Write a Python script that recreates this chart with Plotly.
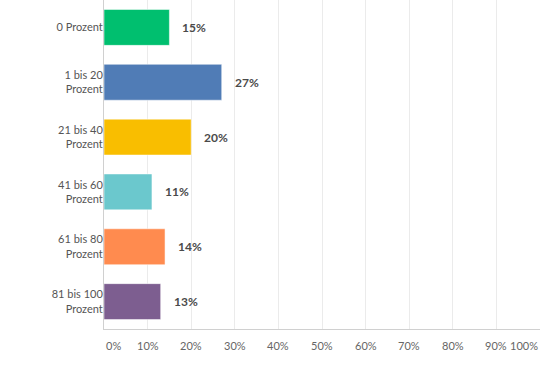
import plotly.graph_objects as go

categories = ["0 Prozent", "1 bis 20<br>Prozent", "21 bis 40<br>Prozent",
              "41 bis 60<br>Prozent", "61 bis 80<br>Prozent", "81 bis 100<br>Prozent"]
values = [15, 27, 20, 11, 14, 13]
value_labels = ["15%", "27%", "20%", "11%", "14%", "13%"]
colors = ["#00BF6F", "#507CB6", "#F9BE00", "#6BC8CD", "#FF8B4F", "#7D5E90"]
tick_vals = [0, 10, 20, 30, 40, 50, 60, 70, 80, 90, 100]
tick_text = ["0%", "10%", "20%", "30%", "40%", "50%", "60%", "70%", "80%", "90%", "100%"]

FONT = "Lato"

fig = go.Figure()
fig.add_trace(go.Bar(
    x=values, y=categories, orientation="h",
    marker=dict(color=colors, line=dict(color="rgba(255,255,255,0.5)", width=1)),
    hoverinfo="skip",
))

annotations = []
for c, v, t in zip(categories, values, value_labels):
    annotations.append(dict(x=v, y=c, xref="x", yref="y", text="<b>" + t + "</b>",
                            showarrow=False, xanchor="left", xshift=11,
                            font=dict(family=FONT, size=12, color="#4a4a4a")))

# x tick labels as annotations so the end labels can be anchored inside
for tv, tt in zip(tick_vals, tick_text):
    anchor = "left" if tv == tick_vals[0] else ("right" if tv == tick_vals[-1] else "center")
    annotations.append(dict(x=tv, y=0, xref="x", yref="paper", text=tt,
                            showarrow=False, xanchor=anchor, yanchor="top", yshift=-8,
                            font=dict(family=FONT, size=11, color="#666")))

fig.update_layout(
    width=542, height=375,
    margin=dict(l=104, r=2, t=0, b=46),
    paper_bgcolor="white", plot_bgcolor="white",
    bargap=0.345,
    showlegend=False,
    annotations=annotations,
    font=dict(family=FONT, size=11, color="#555"),
    xaxis=dict(range=[0, 100], tickvals=tick_vals, showticklabels=False,
               showgrid=True, gridcolor="#ebebeb", gridwidth=1,
               showline=True, linecolor="#d0d0d0", linewidth=1,
               zeroline=False, ticks="", automargin=False),
    yaxis=dict(autorange="reversed", showline=True, linecolor="#d0d0d0", linewidth=1,
               ticks="", showgrid=False, ticklabelstandoff=-2, automargin=False,
               tickfont=dict(family=FONT, size=11, color="#555")),
)

fig.write_html("out.html", config={"displayModeBar": False},
               post_script="document.body.style.margin='0';")
